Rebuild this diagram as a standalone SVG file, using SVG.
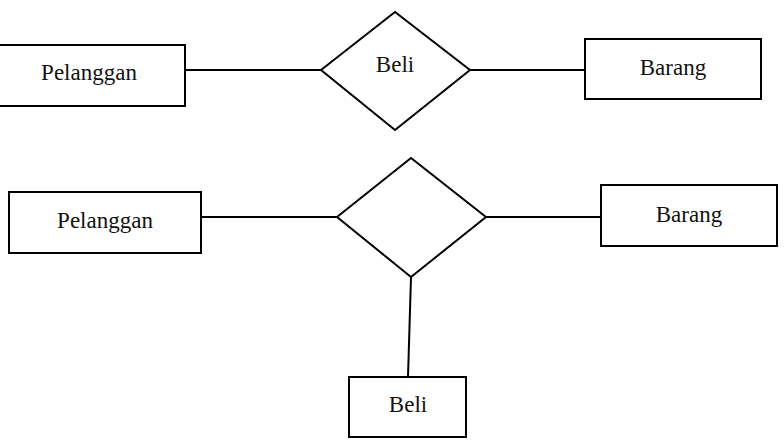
<svg xmlns="http://www.w3.org/2000/svg" width="784" height="440" viewBox="0 0 784 440">
<style>
.shape{fill:#fff;stroke:#000;stroke-width:2}
.conn{stroke:#000;stroke-width:2;fill:none}
text{font-family:"Liberation Serif","Times New Roman",serif;font-size:23px;fill:#111;text-anchor:middle}
</style>
<rect width="784" height="440" fill="#fff"/>
<g id="connectors">
<line class="conn" x1="185" y1="70" x2="321" y2="70"/>
<line class="conn" x1="470" y1="70" x2="585" y2="70"/>
<line class="conn" x1="201" y1="217" x2="337" y2="217"/>
<line class="conn" x1="486" y1="217" x2="601" y2="217"/>
<line class="conn" x1="411" y1="277" x2="408" y2="377"/>
</g>
<g id="pelanggan1">
<rect class="shape" x="-7" y="45" width="192" height="61"/>
<text x="89" y="80">Pelanggan</text>
</g>
<g id="beli1">
<polygon class="shape" points="321,70 395,12 470,70 395,130"/>
<text x="395" y="72">Beli</text>
</g>
<g id="barang1">
<rect class="shape" x="585" y="39" width="176" height="60"/>
<text x="673" y="75">Barang</text>
</g>
<g id="pelanggan2">
<rect class="shape" x="9" y="192" width="192" height="61"/>
<text x="105" y="228">Pelanggan</text>
</g>
<g id="relasi2">
<polygon class="shape" points="337,217 411,158 486,217 411,277"/>
</g>
<g id="barang2">
<rect class="shape" x="601" y="185" width="176" height="61"/>
<text x="689" y="222">Barang</text>
</g>
<g id="beli2">
<rect class="shape" x="349" y="377" width="117" height="60"/>
<text x="408" y="412">Beli</text>
</g>
</svg>
